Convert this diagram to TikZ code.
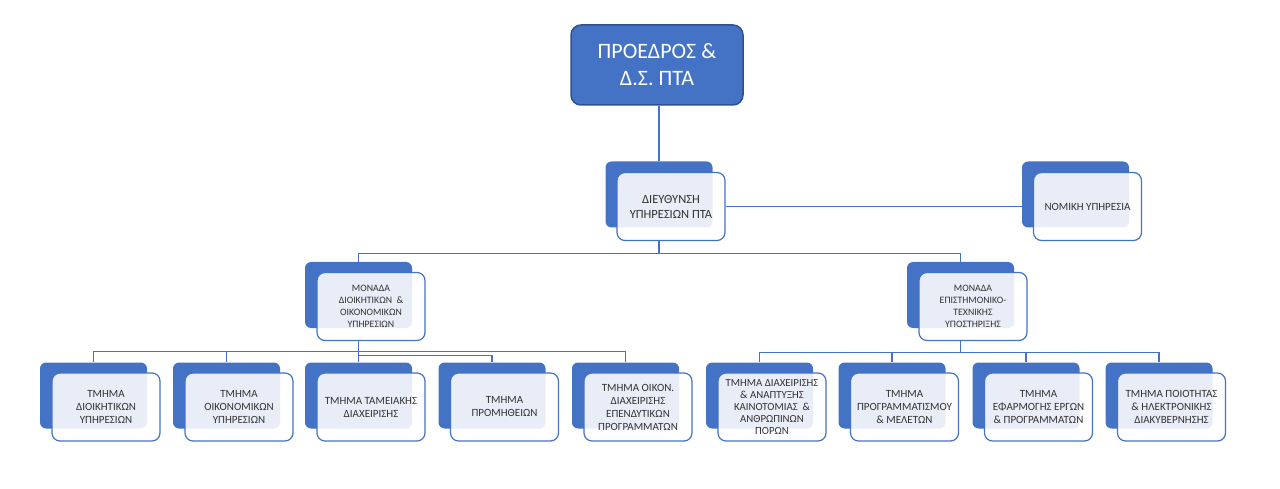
\documentclass[tikz,border=0pt]{standalone}
\usepackage{fontspec}
\setmainfont{Carlito}
\usepackage{tikz}

\definecolor{orgblue}{HTML}{4472C4}
\definecolor{orgdark}{HTML}{2F528F}
\definecolor{orgtext}{HTML}{333333}

\pgfdeclarelayer{background}
\pgfsetlayers{background,main}

\begin{document}
\begin{tikzpicture}[
            x = 1pt, y = -1pt, % pixel units, y pointing down
            line join = round,
            semithick % line style
        ]

        \tikzstyle{top box}=[
            draw = orgdark,
            line width = 1.5pt,
            fill = orgblue,
            rounded corners = 10pt,
            minimum width = 172pt,
            minimum height = 80pt,
            text = white,
            align = center,
            font = \fontsize{22}{27}\selectfont
        ]
        \tikzstyle{back box}=[
            fill = orgblue,
            rounded corners = 6pt,
            minimum width = 107pt,
            minimum height = 66pt,
            inner sep = 0pt
        ]
        \tikzstyle{front box}=[
            draw = orgblue,
            line width = 1.2pt,
            fill = white,
            fill opacity = 0.88,
            text opacity = 1,
            rounded corners = 8pt,
            minimum width = 108pt,
            minimum height = 68pt,
            inner sep = 1pt,
            text = orgtext,
            align = center,
            font = \fontsize{11}{13}\selectfont
        ]
        \tikzstyle{link}=[
            draw = orgblue,
            line width = 1.1pt
        ]

    \useasboundingbox (0,0) rectangle (1280,489);

    % Define the nodes and their positions
    \node[top box] (pres) at (657, 65) {ΠΡΟΕΔΡΟΣ \&\\Δ.Σ. ΠΤΑ};

    \node[back box] (dirb) at (659, 194.5) {};
    \node[front box, font=\fontsize{12.5}{15}\selectfont] (dirf) at (671, 206.5) {ΔΙΕΥΘΥΝΣΗ\\ΥΠΗΡΕΣΙΩΝ ΠΤΑ};
    \node[back box] (nomb) at (1075.5, 194.5) {};
    \node[front box] (nomf) at (1087.5, 206.5) {ΝΟΜΙΚΗ ΥΠΗΡΕΣΙΑ};

    \node[back box] (monab) at (358.5, 295) {};
    \node[front box, font=\fontsize{9.8}{12}\selectfont] (monaf) at (371, 306.5) {ΜΟΝΑΔΑ\\ΔΙΟΙΚΗΤΙΚΩΝ \ \&\\ΟΙΚΟΝΟΜΙΚΩΝ\\ΥΠΗΡΕΣΙΩΝ};
    \node[back box] (monbb) at (960.5, 295) {};
    \node[front box, font=\fontsize{9.8}{12}\selectfont] (monbf) at (973, 306.5) {ΜΟΝΑΔΑ\\ΕΠΙΣΤΗΜΟΝΙΚΟ-\\ΤΕΧΝΙΚΗΣ\\ΥΠΟΣΤΗΡΙΞΗΣ};

    \node[back box] (c1b) at (93.5, 395.5) {};
    \node[front box] (c1f) at (106, 407) {ΤΜΗΜΑ\\ΔΙΟΙΚΗΤΙΚΩΝ\\ΥΠΗΡΕΣΙΩΝ};
    \node[back box] (c2b) at (226.5, 395.5) {};
    \node[front box] (c2f) at (239, 407) {ΤΜΗΜΑ\\ΟΙΚΟΝΟΜΙΚΩΝ\\ΥΠΗΡΕΣΙΩΝ};
    \node[back box] (c3b) at (358.5, 395.5) {};
    \node[front box] (c3f) at (371, 407) {ΤΜΗΜΑ ΤΑΜΕΙΑΚΗΣ\\ΔΙΑΧΕΙΡΙΣΗΣ};
    \node[back box] (c4b) at (492, 395.5) {};
    \node[front box] (c4f) at (504.5, 407) {ΤΜΗΜΑ\\ΠΡΟΜΗΘΕΙΩΝ};
    \node[back box] (c5b) at (625.5, 395.5) {};
    \node[front box] (c5f) at (638, 407) {ΤΜΗΜΑ ΟΙΚΟΝ.\\ΔΙΑΧΕΙΡΙΣΗΣ\\ΕΠΕΝΔΥΤΙΚΩΝ\\ΠΡΟΓΡΑΜΜΑΤΩΝ};
    \node[back box] (c6b) at (759.5, 395.5) {};
    \node[front box, font=\fontsize{10.8}{12}\selectfont] (c6f) at (772, 407) {ΤΜΗΜΑ ΔΙΑΧΕΙΡΙΣΗΣ\\\& ΑΝΑΠΤΥΞΗΣ\\ΚΑΙΝΟΤΟΜΙΑΣ \ \&\\ΑΝΘΡΩΠΙΝΩΝ\\ΠΟΡΩΝ};
    \node[back box] (c7b) at (892, 395.5) {};
    \node[front box] (c7f) at (904.5, 407) {ΤΜΗΜΑ\\ΠΡΟΓΡΑΜΜΑΤΙΣΜΟΥ\\\& ΜΕΛΕΤΩΝ};
    \node[back box] (c8b) at (1026, 395.5) {};
    \node[front box] (c8f) at (1038.5, 407) {ΤΜΗΜΑ\\ΕΦΑΡΜΟΓΗΣ ΕΡΓΩΝ\\\& ΠΡΟΓΡΑΜΜΑΤΩΝ};
    \node[back box] (c9b) at (1159, 395.5) {};
    \node[front box] (c9f) at (1171.5, 407) {ΤΜΗΜΑ ΠΟΙΟΤΗΤΑΣ\\\& ΗΛΕΚΤΡΟΝΙΚΗΣ\\ΔΙΑΚΥΒΕΡΝΗΣΗΣ};

    % Draw connectors behind the boxes
    \begin{pgfonlayer}{background}
    \draw[link] (dirb |- pres.south) -- (dirb.north);
    \draw[link] (dirf.east) -- (nomb.west |- dirf.east);
    \draw[link] (dirb |- dirf.south) -- ++(0,12) -| (monab.north);
    \draw[link] (dirb |- dirf.south) -- ++(0,12) -| (monbb.north);

    \draw[link] (monab |- monaf.south) -- ++(0,10) -| (c1b.north);
    \draw[link] (monab |- monaf.south) -- ++(0,10) -| (c2b.north);
    \draw[link] (monab |- monaf.south) -- (c3b.north);
    \draw[link] (monab |- monaf.south) -- ++(0,14) -| (c4b.north);
    \draw[link] (monab |- monaf.south) -- ++(0,10) -| (c5b.north);

    \draw[link] (monbb |- monbf.south) -- ++(0,11) -| (c6b.north);
    \draw[link] (monbb |- monbf.south) -- ++(0,11) -| (c7b.north);
    \draw[link] (monbb |- monbf.south) -- ++(0,11) -| (c8b.north);
    \draw[link] (monbb |- monbf.south) -- ++(0,11) -| (c9b.north);
    \end{pgfonlayer}
\end{tikzpicture}
\end{document}
